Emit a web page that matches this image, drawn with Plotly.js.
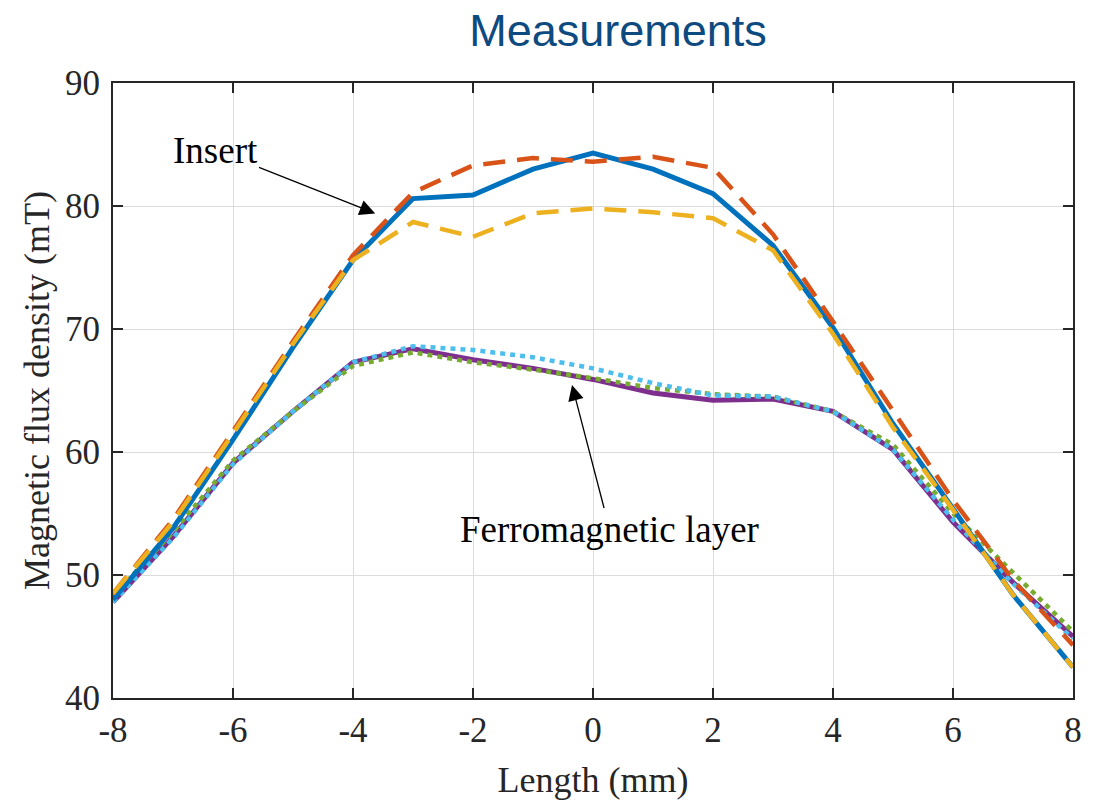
<!DOCTYPE html>
<html>
<head>
<meta charset="utf-8">
<script src="https://cdn.plot.ly/plotly-3.0.1.min.js"></script>
<style>html,body{margin:0;padding:0;background:#fff;}#chart{width:1096px;height:805px;}</style>
</head>
<body>
<div id="chart"></div>
<script>
const lengthMm = [-8,-7,-6,-5,-4,-3,-2,-1,0,1,2,3,4,5,6,7,8];
const insertA = [48.0,53.8,61.0,68.5,75.6,80.6,80.9,83.0,84.3,83.0,81.0,76.8,70.1,62.3,55.4,48.4,42.5];
const insertB = [48.5,54.5,61.7,69.0,76.0,81.1,83.3,83.9,83.6,84.0,83.1,77.7,70.6,63.3,56.1,49.6,44.3];
const insertC = [48.5,54.3,61.5,68.8,75.6,78.7,77.5,79.4,79.8,79.5,79.0,76.4,69.6,62.0,55.3,48.4,42.5];
const ferroA = [47.8,53.1,59.1,63.3,67.3,68.4,67.5,66.8,65.9,64.8,64.2,64.3,63.3,60.2,54.3,49.4,45.0];
const ferroB = [47.8,53.0,59.0,63.3,67.3,68.6,68.3,67.7,66.8,65.6,64.6,64.5,63.3,60.2,54.5,49.3,44.8];
const ferroC = [48.3,53.5,59.3,63.3,67.0,68.1,67.3,66.7,66.0,65.2,64.7,64.5,63.3,60.6,55.0,50.2,45.4];
const xTicks = [-8,-6,-4,-2,0,2,4,6,8];
const yTicks = [40,50,60,70,80,90];

const traces = [
  {x: lengthMm, y: ferroA, mode:'lines', line:{color:'#7E2F8E', width:5}},
  {x: lengthMm, y: ferroC, mode:'lines', line:{color:'#77AC30', width:4.5, dash:'5px,5px'}},
  {x: lengthMm, y: ferroB, mode:'lines', line:{color:'#4DBEEE', width:4.5, dash:'5px,5px'}},
  {x: lengthMm, y: insertA, mode:'lines', line:{color:'#0072BD', width:5}},
  {x: lengthMm, y: insertB, mode:'lines', line:{color:'#D95319', width:4.5, dash:'22px,12px'}},
  {x: lengthMm, y: insertC, mode:'lines', line:{color:'#EDB120', width:4.5, dash:'22px,12px'}}
];

const serif = '"Liberation Serif", "Times New Roman", serif';
const tickFont = {family:serif, size:35, color:'#262626'};
const axTitleFont = {family:serif, size:36, color:'#262626'};
const layout = {
  width:1096, height:805,
  margin:{l:113, r:23, t:83, b:107},
  paper_bgcolor:'#fff', plot_bgcolor:'#fff',
  showlegend:false,
  title:{text:'Measurements', x:0.526, xref:'paper', xanchor:'center', y:0.963, yanchor:'middle',
         font:{family:'"Liberation Sans", Arial, sans-serif', size:45, color:'#0d4a80'}},
  xaxis:{range:[-8,8], tickvals:xTicks, ticktext:xTicks.map(String),
         showgrid:true, gridcolor:'#dcdcdc', gridwidth:1,
         showline:true, linecolor:'#262626', linewidth:2, mirror:'ticks',
         ticks:'inside', ticklen:10, tickwidth:2, tickcolor:'#262626',
         zeroline:false, tickfont:tickFont,
         title:{text:'Length (mm)', font:axTitleFont, standoff:18}},
  yaxis:{range:[40,90], tickvals:yTicks, ticktext:yTicks.map(String),
         showgrid:true, gridcolor:'#dcdcdc', gridwidth:1,
         showline:true, linecolor:'#262626', linewidth:2, mirror:'ticks',
         ticks:'inside', ticklen:10, tickwidth:2, tickcolor:'#262626',
         ticklabelstandoff:4,
         zeroline:false, tickfont:tickFont,
         title:{text:'Magnetic flux density (mT)', font:axTitleFont, standoff:4}},
  annotations:[
    {x:-3.63, y:79.4, ax:-6.3, ay:84.55, axref:'x', ayref:'y', xref:'x', yref:'y',
     text:'Insert', showarrow:true, arrowhead:2, arrowsize:2.4, arrowwidth:1.3, arrowcolor:'#000',
     font:{family:serif, size:37, color:'#000'}},
    {x:-0.35, y:65.45, ax:0.28, ay:53.66, axref:'x', ayref:'y', xref:'x', yref:'y',
     text:'Ferromagnetic layer', showarrow:true, arrowhead:2, arrowsize:2.4, arrowwidth:1.3, arrowcolor:'#000',
     font:{family:serif, size:37, color:'#000'}}
  ]
};
Plotly.newPlot('chart', traces, layout, {displayModeBar:false, staticPlot:true});
</script>
</body>
</html>
